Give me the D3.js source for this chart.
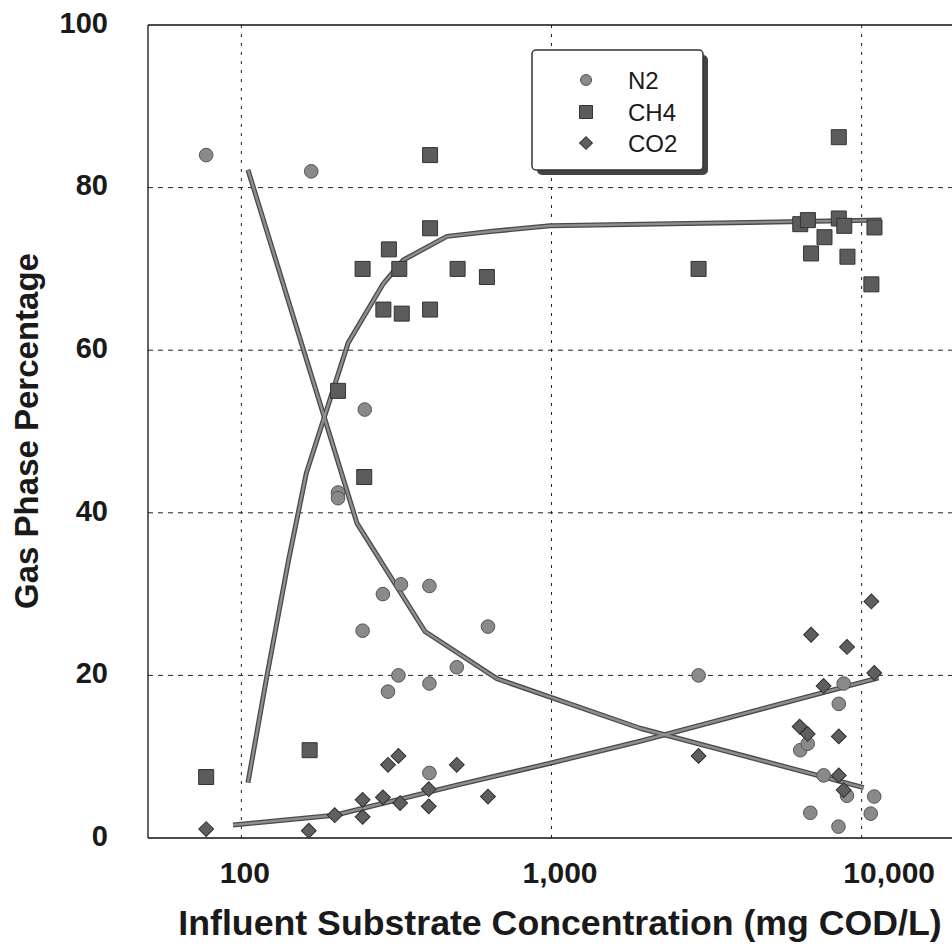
<!DOCTYPE html>
<html><head><meta charset="utf-8">
<script src="https://cdn.jsdelivr.net/npm/d3@7"></script>
<style>body{margin:0;background:#fff}svg{display:block}</style>
</head><body>
<svg id="chart" width="952" height="947"></svg>
<script>
// ---------- data ----------
const xTicks = [100, 1000, 10000];
const xTickLabels = ["100", "1,000", "10,000"];
const yTicks = [0, 20, 40, 60, 80, 100];
const yTickLabels = ["0", "20", "40", "60", "80", "100"];
const seriesNames = ["N2", "CH4", "CO2"];
const xTitle = "Influent Substrate Concentration (mg COD/L)";
const yTitle = "Gas Phase Percentage";

const n2X = [77, 168, 205, 205, 250, 246, 286, 327, 404, 624, 495, 321, 404, 297, 404, 2980, 6340, 6700, 6830, 7540, 8420, 8440, 8750, 8970, 10700, 10980];
const n2Y = [84, 82, 42.5, 41.8, 52.7, 25.5, 30, 31.2, 31, 26, 21, 20, 19, 18, 8, 20, 10.8, 11.6, 3.1, 7.7, 1.4, 16.5, 19, 5.2, 3, 5.1];

const ch4X = [77, 166, 205, 249, 246, 287, 299, 323, 329, 406, 406, 406, 498, 619, 2980, 6340, 6710, 6870, 7590, 8440, 8440, 8790, 9000, 10750, 11000];
const ch4Y = [7.5, 10.8, 55, 44.4, 70, 65, 72.4, 70, 64.5, 84, 75, 65, 70, 69, 70, 75.5, 76.0, 71.9, 73.9, 86.2, 76.2, 75.3, 71.5, 68.1, 75.1];

const co2X = [77, 165, 200, 246, 246, 286, 297, 321, 325, 402, 402, 495, 624, 2980, 6310, 6700, 6870, 7540, 8440, 8440, 8750, 8970, 10750, 10980];
const co2Y = [1.1, 0.9, 2.8, 4.7, 2.6, 5.0, 9.0, 10.1, 4.3, 6.0, 3.9, 9.0, 5.1, 10.1, 13.7, 12.8, 25.0, 18.7, 12.5, 7.7, 5.9, 23.5, 29.1, 20.3];

// fitted trend lines
const n2FitX = [105, 236, 391, 667, 1930, 10150];
const n2FitY = [82.2, 38.7, 25.4, 19.6, 13.5, 6.2];
const ch4FitX = [105, 121, 142, 162, 186, 221, 287, 333, 460, 634, 990, 11600];
const ch4FitY = [6.8, 20.0, 34.2, 44.9, 52.0, 60.9, 68.2, 71.1, 74.0, 74.6, 75.3, 76.0];
const co2FitX = [94, 200, 495, 990, 1930, 11340];
const co2FitY = [1.6, 2.8, 6.5, 9.2, 11.9, 19.7];

// ---------- layout ----------
const FONT = "'Liberation Sans', Arial, Helvetica, sans-serif";
const svg = d3.select("#chart");
const L = 148, T = 25, B = 838, R = 955;

const x = d3.scaleLog().domain([50, 20000]).range([L, R]);
const y = d3.scaleLinear().domain([0, 100]).range([B, T]);

// grid
const grid = svg.append("g").attr("stroke", "#222").attr("stroke-width", 1);
grid.selectAll("line.h").data(yTicks.filter(v => v > 0 && v < 100)).join("line")
  .attr("x1", L).attr("x2", 952).attr("y1", d => y(d)).attr("y2", d => y(d))
  .attr("stroke-dasharray", "5,5");
grid.selectAll("line.v").data(xTicks).join("line")
  .attr("x1", d => x(d)).attr("x2", d => x(d)).attr("y1", T).attr("y2", B)
  .attr("stroke-dasharray", "3,6");

// frame
const frame = svg.append("g").attr("stroke", "#111").attr("stroke-width", 1.3);
frame.append("line").attr("x1", L).attr("x2", L).attr("y1", T).attr("y2", B);
frame.append("line").attr("x1", L).attr("x2", 952).attr("y1", T).attr("y2", T);
frame.append("line").attr("x1", L).attr("x2", 952).attr("y1", B).attr("y2", B);

// axes
const yAxis = svg.append("g").attr("transform", `translate(${L},0)`)
  .call(d3.axisLeft(y).tickValues(yTicks).tickSize(0).tickPadding(40)
    .tickFormat((d, i) => yTickLabels[i]));
yAxis.select(".domain").remove();
yAxis.selectAll("text").attr("font-family", FONT).attr("font-size", 29)
  .attr("font-weight", "bold").attr("fill", "#1a1a1a").attr("dy", "0.25em");

const xLabelShift = [3, 8, 27];
const xAxis = svg.append("g").attr("transform", `translate(0,${B})`)
  .call(d3.axisBottom(x).tickValues(xTicks).tickSize(0).tickPadding(24)
    .tickFormat((d, i) => xTickLabels[i]));
xAxis.select(".domain").remove();
xAxis.selectAll("text").attr("font-family", FONT).attr("font-size", 30)
  .attr("font-weight", "bold").attr("fill", "#1a1a1a")
  .attr("dx", (d, i) => xLabelShift[i]);

// titles
svg.append("text").attr("x", 560).attr("y", 935).attr("text-anchor", "middle")
  .attr("font-family", FONT).attr("font-size", 35.7).attr("font-weight", "bold")
  .attr("fill", "#1a1a1a").text(xTitle);
svg.append("text").attr("transform", "translate(38,431) rotate(-90)")
  .attr("text-anchor", "middle").attr("font-family", FONT).attr("font-size", 33)
  .attr("font-weight", "bold").attr("fill", "#1a1a1a").text(yTitle);

// fit lines
const lineGen = d3.line().x(d => x(d[0])).y(d => y(d[1]));
const fits = [
  d3.zip(n2FitX, n2FitY),
  d3.zip(ch4FitX, ch4FitY),
  d3.zip(co2FitX, co2FitY)
];
const fitG = svg.append("g").attr("fill", "none").attr("stroke-linejoin", "round");
fitG.selectAll("path.o").data(fits).join("path").attr("d", lineGen)
  .attr("stroke", "#4a4a4a").attr("stroke-width", 5);
fitG.selectAll("path.i").data(fits).join("path").attr("d", lineGen)
  .attr("stroke", "#8e8e8e").attr("stroke-width", 2.4);

// markers
const sym = {
  N2: d3.symbol().type(d3.symbolCircle).size(Math.PI * 6.8 * 6.8),
  CH4: d3.symbol().type(d3.symbolSquare).size(15 * 15),
  CO2: d3.symbol().type(d3.symbolSquare).size(10.5 * 10.5)
};
const style = {
  N2: { fill: "#8a8a8a", stroke: "#555", rot: 0 },
  CH4: { fill: "#5c5c5c", stroke: "#333", rot: 0 },
  CO2: { fill: "#5f5f5f", stroke: "#2e2e2e", rot: 45 }
};
const seriesData = {
  N2: d3.zip(n2X, n2Y),
  CH4: d3.zip(ch4X, ch4Y),
  CO2: d3.zip(co2X, co2Y)
};
["CH4", "N2", "CO2"].forEach(name => {
  svg.append("g").selectAll("path").data(seriesData[name]).join("path")
    .attr("d", sym[name]())
    .attr("transform", d => `translate(${x(d[0])},${y(d[1])}) rotate(${style[name].rot})`)
    .attr("fill", style[name].fill).attr("stroke", style[name].stroke).attr("stroke-width", 1);
});

// legend
const lg = svg.append("g");
lg.append("rect").attr("x", 537).attr("y", 55).attr("width", 171).attr("height", 120)
  .attr("rx", 5).attr("fill", "#444");
lg.append("rect").attr("x", 532).attr("y", 50).attr("width", 171).attr("height", 120)
  .attr("rx", 4).attr("fill", "#fff").attr("stroke", "#333").attr("stroke-width", 1.5);
const legSym = {
  N2: d3.symbol().type(d3.symbolCircle).size(Math.PI * 5.5 * 5.5),
  CH4: d3.symbol().type(d3.symbolSquare).size(13 * 13),
  CO2: d3.symbol().type(d3.symbolSquare).size(9 * 9)
};
const legRows = [80, 112, 143];
seriesNames.forEach((name, i) => {
  lg.append("path").attr("d", legSym[name]())
    .attr("transform", `translate(586,${legRows[i]}) rotate(${style[name].rot})`)
    .attr("fill", style[name].fill).attr("stroke", style[name].stroke);
  lg.append("text").attr("x", 628).attr("y", legRows[i]).attr("dy", "0.36em")
    .attr("font-family", FONT).attr("font-size", 24).attr("fill", "#1a1a1a").text(name);
});
</script>
</body></html>
